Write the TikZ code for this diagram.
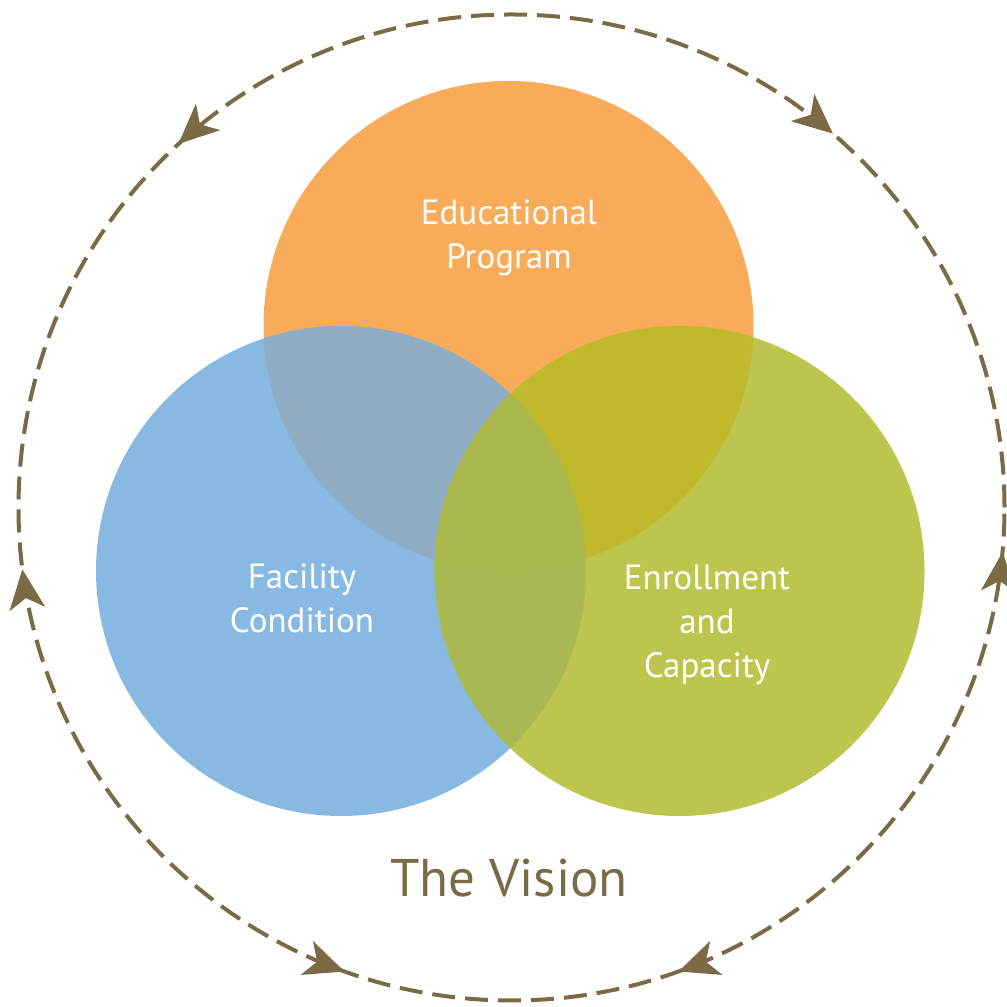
\documentclass[tikz,border=0pt]{standalone}
\usepackage{fontspec}
\setmainfont{PT Sans}
\usetikzlibrary{arrows.meta,decorations.markings}
\definecolor{visionbrown}{RGB}{123,106,70}
\definecolor{eduorange}{RGB}{248,172,89}
\definecolor{facblue}{RGB}{136,185,226}
\definecolor{enrgreen}{RGB}{189,197,79}
\definecolor{edufac}{RGB}{143,173,196}
\definecolor{eduenr}{RGB}{192,185,45}
\definecolor{facenr}{RGB}{170,185,83}
\definecolor{allthree}{RGB}{171,184,78}
\newcommand{\mylabelfont}{\fontsize{35}{44}\selectfont}
\newcommand{\mytitlefont}{\fontsize{53}{60}\selectfont}
\tikzset{
	ring/.style={draw=visionbrown, line width=4pt, dash pattern=on 23pt off 10pt},
	circlelabel/.style={text=white, align=center, inner sep=0pt, font=\mylabelfont},
	>={Stealth[length=40pt,width=36pt,inset=11pt,fill=visionbrown,line width=1pt]}
}
\begin{document}
\begin{tikzpicture}[x=1pt,y=1pt]
		%Page
		\useasboundingbox (0,0) rectangle (1007,1007);
		%Centres of the circles
		\coordinate (ringcenter) at (511.5,499.5);
		\coordinate (edu) at (508.5,681);
		\coordinate (fac) at (341,436);
		\coordinate (enr) at (679.5,436);
		%The three circles
		\fill[eduorange] (edu) circle (245);
		\fill[facblue] (fac) circle (245);
		\fill[enrgreen] (enr) circle (245);
		%Overlaps of two circles
		\begin{scope}
			\clip (edu) circle (245);
			\fill[edufac] (fac) circle (245);
			\fill[eduenr] (enr) circle (245);
		\end{scope}
		\begin{scope}
			\clip (fac) circle (245);
			\fill[facenr] (enr) circle (245);
		\end{scope}
		%Overlap of all three
		\begin{scope}
			\clip (edu) circle (245);
			\clip (fac) circle (245);
			\fill[allthree] (enr) circle (245);
		\end{scope}
		%Labels in the circles
		\node [circlelabel] (edulabel) at (509,769) {Educational\\Program};
		\node [circlelabel] (faclabel) at (302,409) {Facility\\Condition};
		\node [circlelabel] (enrlabel) at (707,382) {Enrollment\\and\\Capacity};
		%The dashed ring with its arrows
		\draw[ring, postaction={decorate}, decoration={markings,
			mark=at position 0.137 with {\arrowreversed{>}},
			mark=at position 0.368 with {\arrow{>}},
			mark=at position 0.520 with {\arrowreversed{>}},
			mark=at position 0.695 with {\arrow{>}},
			mark=at position 0.805 with {\arrowreversed{>}},
			mark=at position 0.9856 with {\arrow{>}}}]
			(ringcenter) circle (493);
		%Title
		\node [text=visionbrown, inner sep=0pt, font=\mytitlefont] (title) at (509,129) {The Vision};
		\end{tikzpicture}
\end{document}
